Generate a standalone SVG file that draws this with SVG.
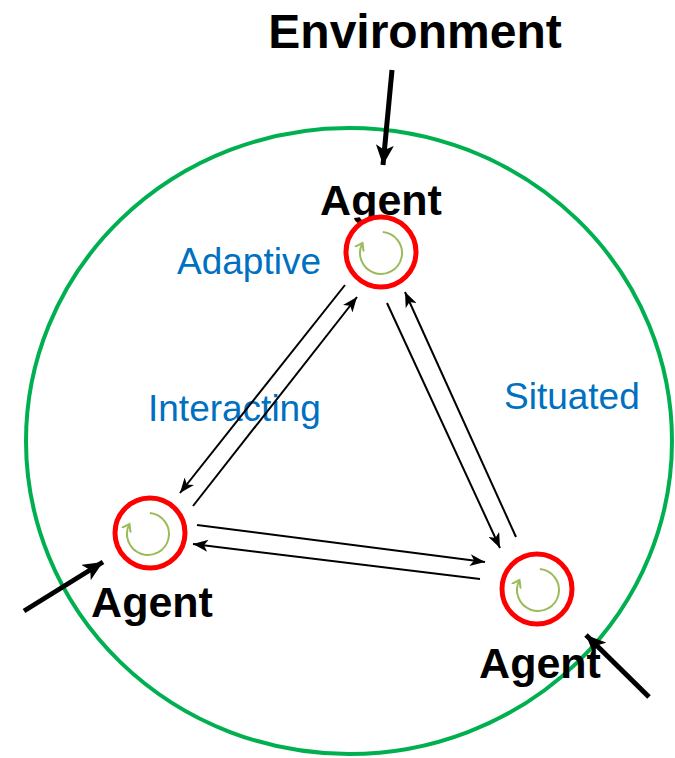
<svg xmlns="http://www.w3.org/2000/svg" width="675" height="758" viewBox="0 0 675 758">
<style>
.env{fill:none;stroke:#00b050;stroke-width:4}
.ring{fill:#fff;stroke:#ff0000;stroke-width:5}
.cyc{fill:none;stroke:#9bbb59;stroke-width:2}
.lbl{font-family:"Liberation Sans",Arial,sans-serif;font-weight:bold;font-size:43px;fill:#000;text-anchor:middle}
.blue{font-family:"Liberation Sans",Arial,sans-serif;font-size:37px;fill:#0070c0}
.thin{stroke:#000;stroke-width:2;fill:none;marker-end:url(#ah)}
.thick{stroke:#000;stroke-width:5;fill:none;marker-end:url(#ahb)}
</style>
<defs>
<marker id="ah" markerUnits="userSpaceOnUse" markerWidth="16" markerHeight="12" refX="15" refY="6" orient="auto">
<path d="M0,0 L15,6 L0,12 L4,6 z" fill="#000"/>
</marker>
<marker id="ahb" markerUnits="userSpaceOnUse" markerWidth="22" markerHeight="18" refX="20" refY="9" orient="auto">
<path d="M0,0 L20,9 L0,18 L5,9 z" fill="#000"/>
</marker>
<marker id="ch" markerUnits="userSpaceOnUse" markerWidth="12" markerHeight="12" refX="7" refY="5.5" orient="auto">
<path d="M0,0.5 L7,5.5 L0,10.5" fill="none" stroke="#9bbb59" stroke-width="2"/>
</marker>
<g id="cycle">
<path d="M1.83,-20.92 A21,21 0 1 1 -18.54,-9.86" class="cyc" marker-end="url(#ch)"/>
</g>
</defs>
<rect width="675" height="758" fill="#fff"/>
<g id="environment">
<ellipse cx="349" cy="441" rx="323" ry="313" class="env"/>
<text x="415" y="48" class="lbl" style="font-size:48px">Environment</text>
</g>
<g id="labels">
<text x="177" y="274" class="blue">Adaptive</text>
<text x="148" y="421" class="blue">Interacting</text>
<text x="504" y="409" class="blue">Situated</text>
</g>
<g id="connectors">
<line x1="345" y1="285" x2="180" y2="493" class="thin"/>
<line x1="193" y1="506" x2="357" y2="297" class="thin"/>
<line x1="387" y1="303" x2="500" y2="548" class="thin"/>
<line x1="516" y1="537" x2="405" y2="292" class="thin"/>
<line x1="197" y1="525" x2="485" y2="562" class="thin"/>
<line x1="480" y1="579" x2="193" y2="544" class="thin"/>
<line x1="392" y1="70" x2="383" y2="165" class="thick"/>
<line x1="24" y1="611" x2="103" y2="562" class="thick"/>
<line x1="649" y1="697" x2="586" y2="635" class="thick"/>
</g>
<g id="agent-top">
<text x="381" y="215" class="lbl">Agent</text>
<circle cx="381" cy="252" r="35" class="ring"/>
<use href="#cycle" x="381" y="253"/>
</g>
<g id="agent-left">
<circle cx="150" cy="533" r="35" class="ring"/>
<use href="#cycle" x="148" y="534"/>
<text x="152" y="617" class="lbl">Agent</text>
</g>
<g id="agent-right">
<circle cx="537" cy="589" r="35" class="ring"/>
<use href="#cycle" x="538" y="590"/>
<text x="540" y="678" class="lbl">Agent</text>
</g>
</svg>
